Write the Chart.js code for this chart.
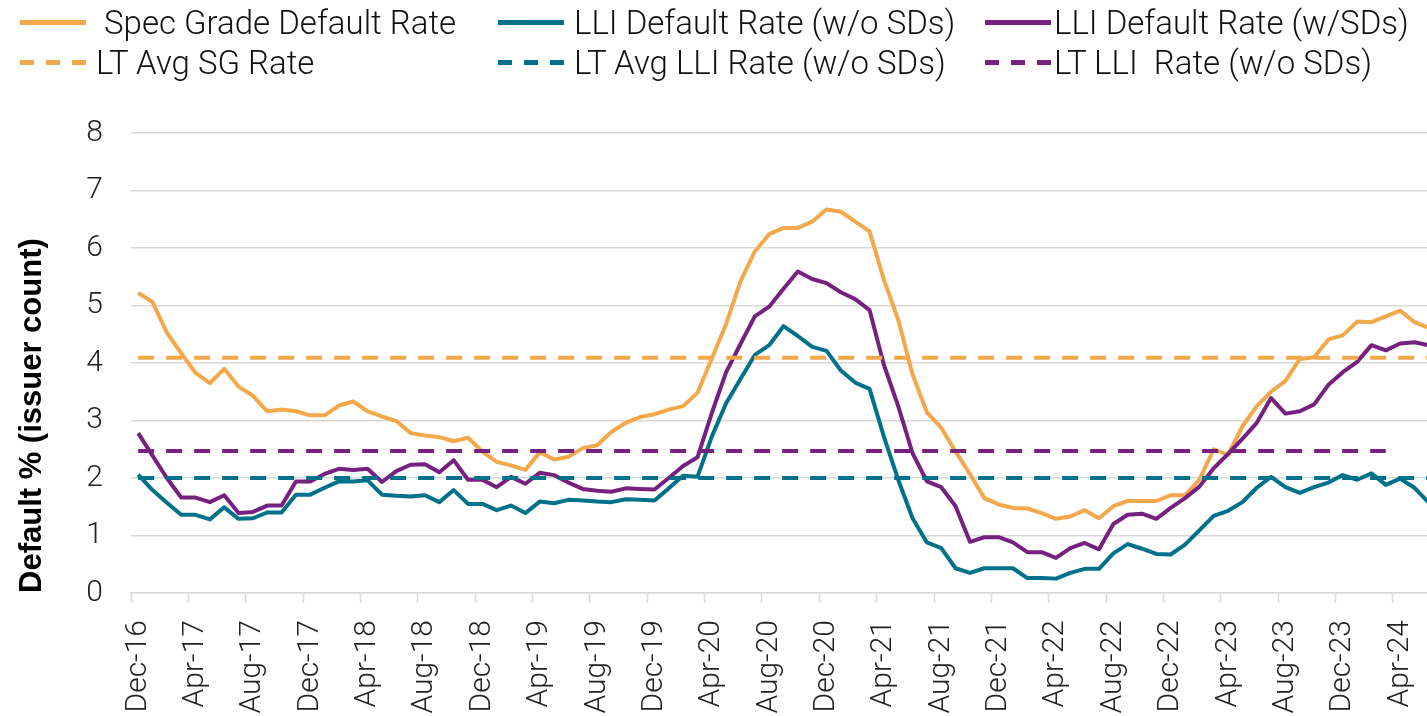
<!DOCTYPE html>
<html>
<head>
<meta charset="utf-8">
<title>Default rates</title>
<script src="https://cdn.jsdelivr.net/npm/chart.js@4.4.1/dist/chart.umd.min.js"></script>
<style>
  html, body { margin: 0; padding: 0; background: #fff; overflow: hidden; }
  #wrap { position: relative; width: 1436px; height: 716px; }
  #legend { position: absolute; left: 0; top: 0; width: 1427px; height: 90px;
    font-family: Roboto, "Open Sans", sans-serif; font-weight: 300; font-size: 33px; color: #111; }
  .item { position: absolute; display: flex; align-items: center; height: 40px; white-space: pre; }
  .swatch { width: 66px; height: 5px; }
</style>
</head>
<body>
<div id="wrap">
  <canvas id="chart"></canvas>
  <div id="legend"></div>
</div>
<script>
const months = [
  'Dec-16',
  'Jan-17', 'Feb-17', 'Mar-17', 'Apr-17', 'May-17', 'Jun-17', 'Jul-17', 'Aug-17', 'Sep-17', 'Oct-17', 'Nov-17', 'Dec-17',
  'Jan-18', 'Feb-18', 'Mar-18', 'Apr-18', 'May-18', 'Jun-18', 'Jul-18', 'Aug-18', 'Sep-18', 'Oct-18', 'Nov-18', 'Dec-18',
  'Jan-19', 'Feb-19', 'Mar-19', 'Apr-19', 'May-19', 'Jun-19', 'Jul-19', 'Aug-19', 'Sep-19', 'Oct-19', 'Nov-19', 'Dec-19',
  'Jan-20', 'Feb-20', 'Mar-20', 'Apr-20', 'May-20', 'Jun-20', 'Jul-20', 'Aug-20', 'Sep-20', 'Oct-20', 'Nov-20', 'Dec-20',
  'Jan-21', 'Feb-21', 'Mar-21', 'Apr-21', 'May-21', 'Jun-21', 'Jul-21', 'Aug-21', 'Sep-21', 'Oct-21', 'Nov-21', 'Dec-21',
  'Jan-22', 'Feb-22', 'Mar-22', 'Apr-22', 'May-22', 'Jun-22', 'Jul-22', 'Aug-22', 'Sep-22', 'Oct-22', 'Nov-22', 'Dec-22',
  'Jan-23', 'Feb-23', 'Mar-23', 'Apr-23', 'May-23', 'Jun-23', 'Jul-23', 'Aug-23', 'Sep-23', 'Oct-23', 'Nov-23', 'Dec-23',
  'Jan-24', 'Feb-24', 'Mar-24', 'Apr-24', 'May-24', 'Jun-24'
];

// spec grade default rate (%)
const specGrade = [
  5.22,
  5.06, 4.53, 4.17, 3.83, 3.65, 3.90, 3.59, 3.43, 3.16, 3.19, 3.16, 3.09,
  3.09, 3.26, 3.33, 3.16, 3.07, 2.99, 2.78, 2.74, 2.71, 2.64, 2.70, 2.46,
  2.28, 2.22, 2.14, 2.45, 2.32, 2.37, 2.52, 2.57, 2.80, 2.96, 3.06, 3.11,
  3.19, 3.25, 3.48, 4.08, 4.68, 5.42, 5.94, 6.24, 6.35, 6.35, 6.46, 6.67,
  6.63, 6.46, 6.29, 5.45, 4.75, 3.80, 3.14, 2.87, 2.46, 2.07, 1.65, 1.54,
  1.48, 1.47, 1.39, 1.29, 1.33, 1.44, 1.30, 1.51, 1.60, 1.60, 1.60, 1.70,
  1.70, 1.97, 2.50, 2.40, 2.90, 3.25, 3.50, 3.69, 4.07, 4.10, 4.41, 4.48,
  4.72, 4.71, 4.81, 4.91, 4.71, 4.61
];

// LLI default rate without selective defaults
const lliNoSD = [
  2.06,
  1.79, 1.57, 1.36, 1.36, 1.28, 1.49, 1.29, 1.30, 1.40, 1.40, 1.71, 1.71,
  1.83, 1.94, 1.94, 1.96, 1.71, 1.69, 1.68, 1.70, 1.58, 1.79, 1.55, 1.55,
  1.44, 1.52, 1.39, 1.59, 1.56, 1.62, 1.61, 1.59, 1.58, 1.63, 1.62, 1.61,
  1.82, 2.04, 2.02, 2.72, 3.30, 3.72, 4.14, 4.31, 4.64, 4.47, 4.28, 4.21,
  3.87, 3.66, 3.55, 2.72, 1.97, 1.30, 0.88, 0.78, 0.43, 0.35, 0.43, 0.43,
  0.43, 0.26, 0.26, 0.25, 0.35, 0.42, 0.42, 0.69, 0.85, 0.77, 0.68, 0.67,
  0.84, 1.09, 1.34, 1.43, 1.58, 1.83, 2.02, 1.84, 1.74, 1.84, 1.92, 2.05,
  1.97, 2.08, 1.88, 1.99, 1.83, 1.57
];

// LLI default rate with selective defaults
const lliWithSD = [
  2.78,
  2.39, 2.00, 1.66, 1.66, 1.58, 1.70, 1.39, 1.41, 1.52, 1.52, 1.94, 1.94,
  2.07, 2.16, 2.14, 2.16, 1.93, 2.12, 2.23, 2.24, 2.10, 2.31, 1.97, 1.97,
  1.84, 2.02, 1.90, 2.09, 2.05, 1.92, 1.81, 1.78, 1.76, 1.82, 1.81, 1.80,
  2.00, 2.21, 2.36, 3.13, 3.84, 4.33, 4.81, 4.98, 5.29, 5.59, 5.46, 5.39,
  5.23, 5.11, 4.92, 3.97, 3.25, 2.43, 1.94, 1.84, 1.51, 0.89, 0.97, 0.97,
  0.88, 0.71, 0.71, 0.61, 0.78, 0.87, 0.76, 1.20, 1.36, 1.38, 1.29, 1.48,
  1.65, 1.85, 2.17, 2.42, 2.68, 2.96, 3.39, 3.12, 3.16, 3.28, 3.62, 3.84,
  4.02, 4.31, 4.22, 4.34, 4.36, 4.31
];

// long-term averages
const ltAvgSG = 4.09;
const ltAvgLLI = 2.0;
const ltLLI = 2.47;
const ltLLIEnd = 'Mar-24';

const yTicks = [0, 1, 2, 3, 4, 5, 6, 7, 8];

const ORANGE = '#f3a84b';
const TEAL = '#00718a';
const PURPLE = '#76217f';

const endIdx = months.indexOf(ltLLIEnd);
const flat = (v, last) => months.map((m, i) => (last === undefined || i <= last) ? v : null);

const datasets = [
  { label: 'Spec Grade Default Rate', data: specGrade, borderColor: ORANGE, order: 5 },
  { label: 'LLI Default Rate (w/o SDs)', data: lliNoSD, borderColor: TEAL, order: 4 },
  { label: 'LLI Default Rate (w/SDs)', data: lliWithSD, borderColor: PURPLE, order: 3 },
  { label: 'LT Avg SG Rate', data: flat(ltAvgSG), borderColor: ORANGE, borderDash: [16, 12], order: 2 },
  { label: 'LT Avg LLI Rate (w/o SDs)', data: flat(ltAvgLLI), borderColor: TEAL, borderDash: [16, 12], order: 1 },
  { label: 'LT LLI  Rate (w/o SDs)', data: flat(ltLLI, endIdx), borderColor: PURPLE, borderDash: [16, 12], order: 0 }
];
datasets.forEach(d => { d.backgroundColor = d.borderColor; d.fill = false; });

const tickFont = { family: 'Roboto', size: 30, weight: 300 };
const GRID = '#d9d9d9';

const chart = new Chart(document.getElementById('chart'), {
  type: 'line',
  data: { labels: months, datasets },
  options: {
    responsive: true,
    maintainAspectRatio: false,
    animation: false,
    layout: { padding: { top: 133, right: 0, bottom: 0, left: 0 } },
    plugins: { legend: { display: false }, tooltip: { enabled: false } },
    elements: {
      point: { radius: 0 },
      line: { tension: 0, borderWidth: 4, borderJoinStyle: 'round' }
    },
    scales: {
      x: {
        offset: true,
        grid: {
          offset: true,
          drawOnChartArea: false,
          drawTicks: true,
          tickLength: 10,
          tickWidth: 1.5,
          tickColor: c => (c.index % 4 === 0 ? GRID : 'rgba(0,0,0,0)')
        },
        border: { display: true, color: GRID, width: 1.5 },
        ticks: {
          autoSkip: false,
          minRotation: 90,
          maxRotation: 90,
          padding: 17,
          color: '#222',
          font: tickFont,
          callback: (v, i) => (i % 4 === 0 ? months[i] : '')
        },
        afterFit: s => { s.height = 123; s.paddingLeft = 0; s.paddingRight = 0; }
      },
      y: {
        min: 0,
        max: 8,
        afterBuildTicks: s => { s.ticks = yTicks.map(v => ({ value: v })); },
        ticks: { padding: 28, color: '#222', font: tickFont },
        grid: { color: GRID, lineWidth: 1.5, drawTicks: false },
        border: { display: false },
        title: {
          display: true,
          text: 'Default % (issuer count)',
          align: 'start',
          color: '#000',
          font: { family: 'Liberation Sans', size: 31, weight: 'bold' },
          padding: { top: 14, bottom: 0 }
        },
        afterFit: s => { s.width = 131; }
      }
    }
  }
});

// legend in three columns, two rows
const legendCols = [20, 498, 985];
const legendGaps = [10, 10, 3];
const legendEl = document.getElementById('legend');
chart.data.datasets.forEach((ds, i) => {
  const item = document.createElement('div');
  item.className = 'item';
  item.style.left = legendCols[i % 3] + 'px';
  item.style.top = (2 + Math.floor(i / 3) * 40) + 'px';
  const sw = document.createElement('span');
  sw.className = 'swatch';
  sw.style.marginRight = legendGaps[i % 3] + 'px';
  sw.style.background = ds.borderDash
    ? `repeating-linear-gradient(90deg, ${ds.borderColor} 0 14px, transparent 14px 26px)`
    : ds.borderColor;
  const txt = document.createElement('span');
  txt.textContent = (i === 0 ? ' ' : '') + ds.label;
  item.appendChild(sw);
  item.appendChild(txt);
  legendEl.appendChild(item);
});
</script>
</body>
</html>
